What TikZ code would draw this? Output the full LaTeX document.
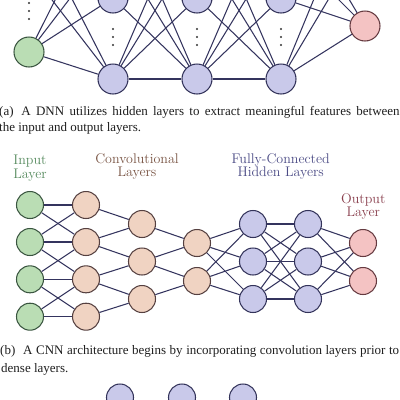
\documentclass[tikz,border=0pt]{standalone}
\usepackage{fontspec}
\newfontfamily\capfont{Liberation Serif}
\definecolor{edgec}{HTML}{34345E}
\definecolor{gfill}{HTML}{BADDB4}
\definecolor{gdraw}{HTML}{3A5540}
\definecolor{pfill}{HTML}{F0D3C2}
\definecolor{pdraw}{HTML}{554040}
\definecolor{bfill}{HTML}{C9C9EA}
\definecolor{bdraw}{HTML}{33335A}
\definecolor{rfill}{HTML}{F4C3C3}
\definecolor{rdraw}{HTML}{653A40}
\definecolor{lgreen}{HTML}{588C60}
\definecolor{lbrown}{HTML}{7A5545}
\definecolor{lblue}{HTML}{4C4C86}
\definecolor{lred}{HTML}{8A404E}
\tikzset{
  neu/.style={circle, line width=1.05pt, inner sep=0pt, minimum size=30pt},
  neub/.style={circle, line width=1.05pt, inner sep=0pt, minimum size=27pt},
  gn/.style={fill=gfill, draw=gdraw},
  pn/.style={fill=pfill, draw=pdraw},
  bn/.style={fill=bfill, draw=bdraw},
  rn/.style={fill=rfill, draw=rdraw},
  conn/.style={draw=edgec, line width=1.05pt},
  lbl/.style={align=center, inner sep=0pt, font=\fontsize{14}{13.5}\selectfont},
  captxt/.style={anchor=base west, inner sep=0pt, font=\capfont\fontsize{13}{15}\selectfont, text=black!88},
  dotm/.style={circle, fill=black!80, inner sep=0pt, minimum size=2.4pt}
}
\begin{document}
\begin{tikzpicture}[x=1pt,y=-1pt]
\useasboundingbox (0,0) rectangle (400,400);
\fill[white] (0,0) rectangle (400,400);
\clip (0,0) rectangle (400,400);
% ---------- (a) DNN ----------
\foreach \n/\y in {1/52,2/-30,3/-85} \node[neu,gn] (ai\n) at (29,\y) {};
\foreach \c/\x in {1/113,2/197,3/281}
  \foreach \n/\y in {1/79,2/-2,3/-58,4/-115} \node[neu,bn] (ah\c\n) at (\x,\y) {};
\foreach \n/\y in {1/26,2/-62,3/-125} \node[neu,rn] (ao\n) at (365,\y) {};
\foreach \a in {1,2,3} \foreach \b in {1,...,4} \draw[conn] (ai\a) -- (ah1\b);
\foreach \a in {1,...,4} \foreach \b in {1,...,4} {
  \draw[conn] (ah1\a) -- (ah2\b);
  \draw[conn] (ah2\a) -- (ah3\b);
}
\foreach \a in {1,...,4} \foreach \b in {1,2,3} \draw[conn] (ah3\a) -- (ao\b);
\foreach \d in {3,11,19} \node[dotm] (adi\d) at (29,\d) {};
\foreach \c/\x in {1/113,2/197,3/281}
  \foreach \d in {29,37,45} \node[dotm] (adh\c-\d) at (\x,\d) {};
\node[captxt] (capa1) at (-1,115) {\makebox[400.5pt][s]{(a)\hspace{0.6em}A DNN utilizes hidden layers to extract meaningful features between}};
\node[captxt] (capa2) at (-1,131.5) {the input and output layers.};
% ---------- (b) CNN ----------
\node[lbl, text=lgreen] (lin) at (30,168) {Input\\Layer};
\node[lbl, text=lbrown] (lconv) at (137,166.7) {Convolutional\\Layers};
\node[lbl, text=lblue] (lfc) at (280.7,166.7) {Fully-Connected\\Hidden Layers};
\node[lbl, text=lred] (lout) at (363.3,206.7) {Output\\Layer};
\foreach \n/\y in {1/205,2/242,3/279.3,4/316.7} {
  \node[neub,gn] (bi\n) at (30,\y) {};
  \node[neub,pn] (bc\n) at (86,\y) {};
}
\foreach \n/\y in {1/224,2/261.5,3/299} {
  \node[neub,pn] (bd\n) at (142,\y) {};
  \node[neub,bn] (bf\n) at (253,\y) {};
  \node[neub,bn] (bg\n) at (308,\y) {};
}
\foreach \n/\y in {1/243,2/281} {
  \node[neub,pn] (be\n) at (197,\y) {};
  \node[neub,rn] (bo\n) at (363,\y) {};
}
% input -> conv1
\foreach \a/\b in {1/1,1/2,2/1,2/2,2/3,3/2,3/3,3/4,4/3,4/4} \draw[conn] (bi\a) -- (bc\b);
% conv1 -> conv2
\foreach \a/\b in {1/1,2/1,2/2,3/2,3/3,4/3} \draw[conn] (bc\a) -- (bd\b);
% conv2 -> conv3
\foreach \a/\b in {1/1,2/1,2/2,3/2} \draw[conn] (bd\a) -- (be\b);
% conv3 -> fc1
\foreach \a in {1,2} \foreach \b in {1,2,3} \draw[conn] (be\a) -- (bf\b);
% fc1 -> fc2
\foreach \a in {1,2,3} \foreach \b in {1,2,3} \draw[conn] (bf\a) -- (bg\b);
% fc2 -> out
\foreach \a in {1,2,3} \foreach \b in {1,2} \draw[conn] (bg\a) -- (bo\b);
\node[captxt] (capb1) at (0,354) {\makebox[399pt][s]{(b)\hspace{0.6em}A CNN architecture begins by incorporating convolution layers prior to}};
\node[captxt] (capb2) at (1,372) {dense layers.};
% ---------- (c) partial ----------
\foreach \n/\x in {1/120,2/182,3/243} \node[neub,bn] (cn\n) at (\x,397.5) {};
\end{tikzpicture}
\end{document}
